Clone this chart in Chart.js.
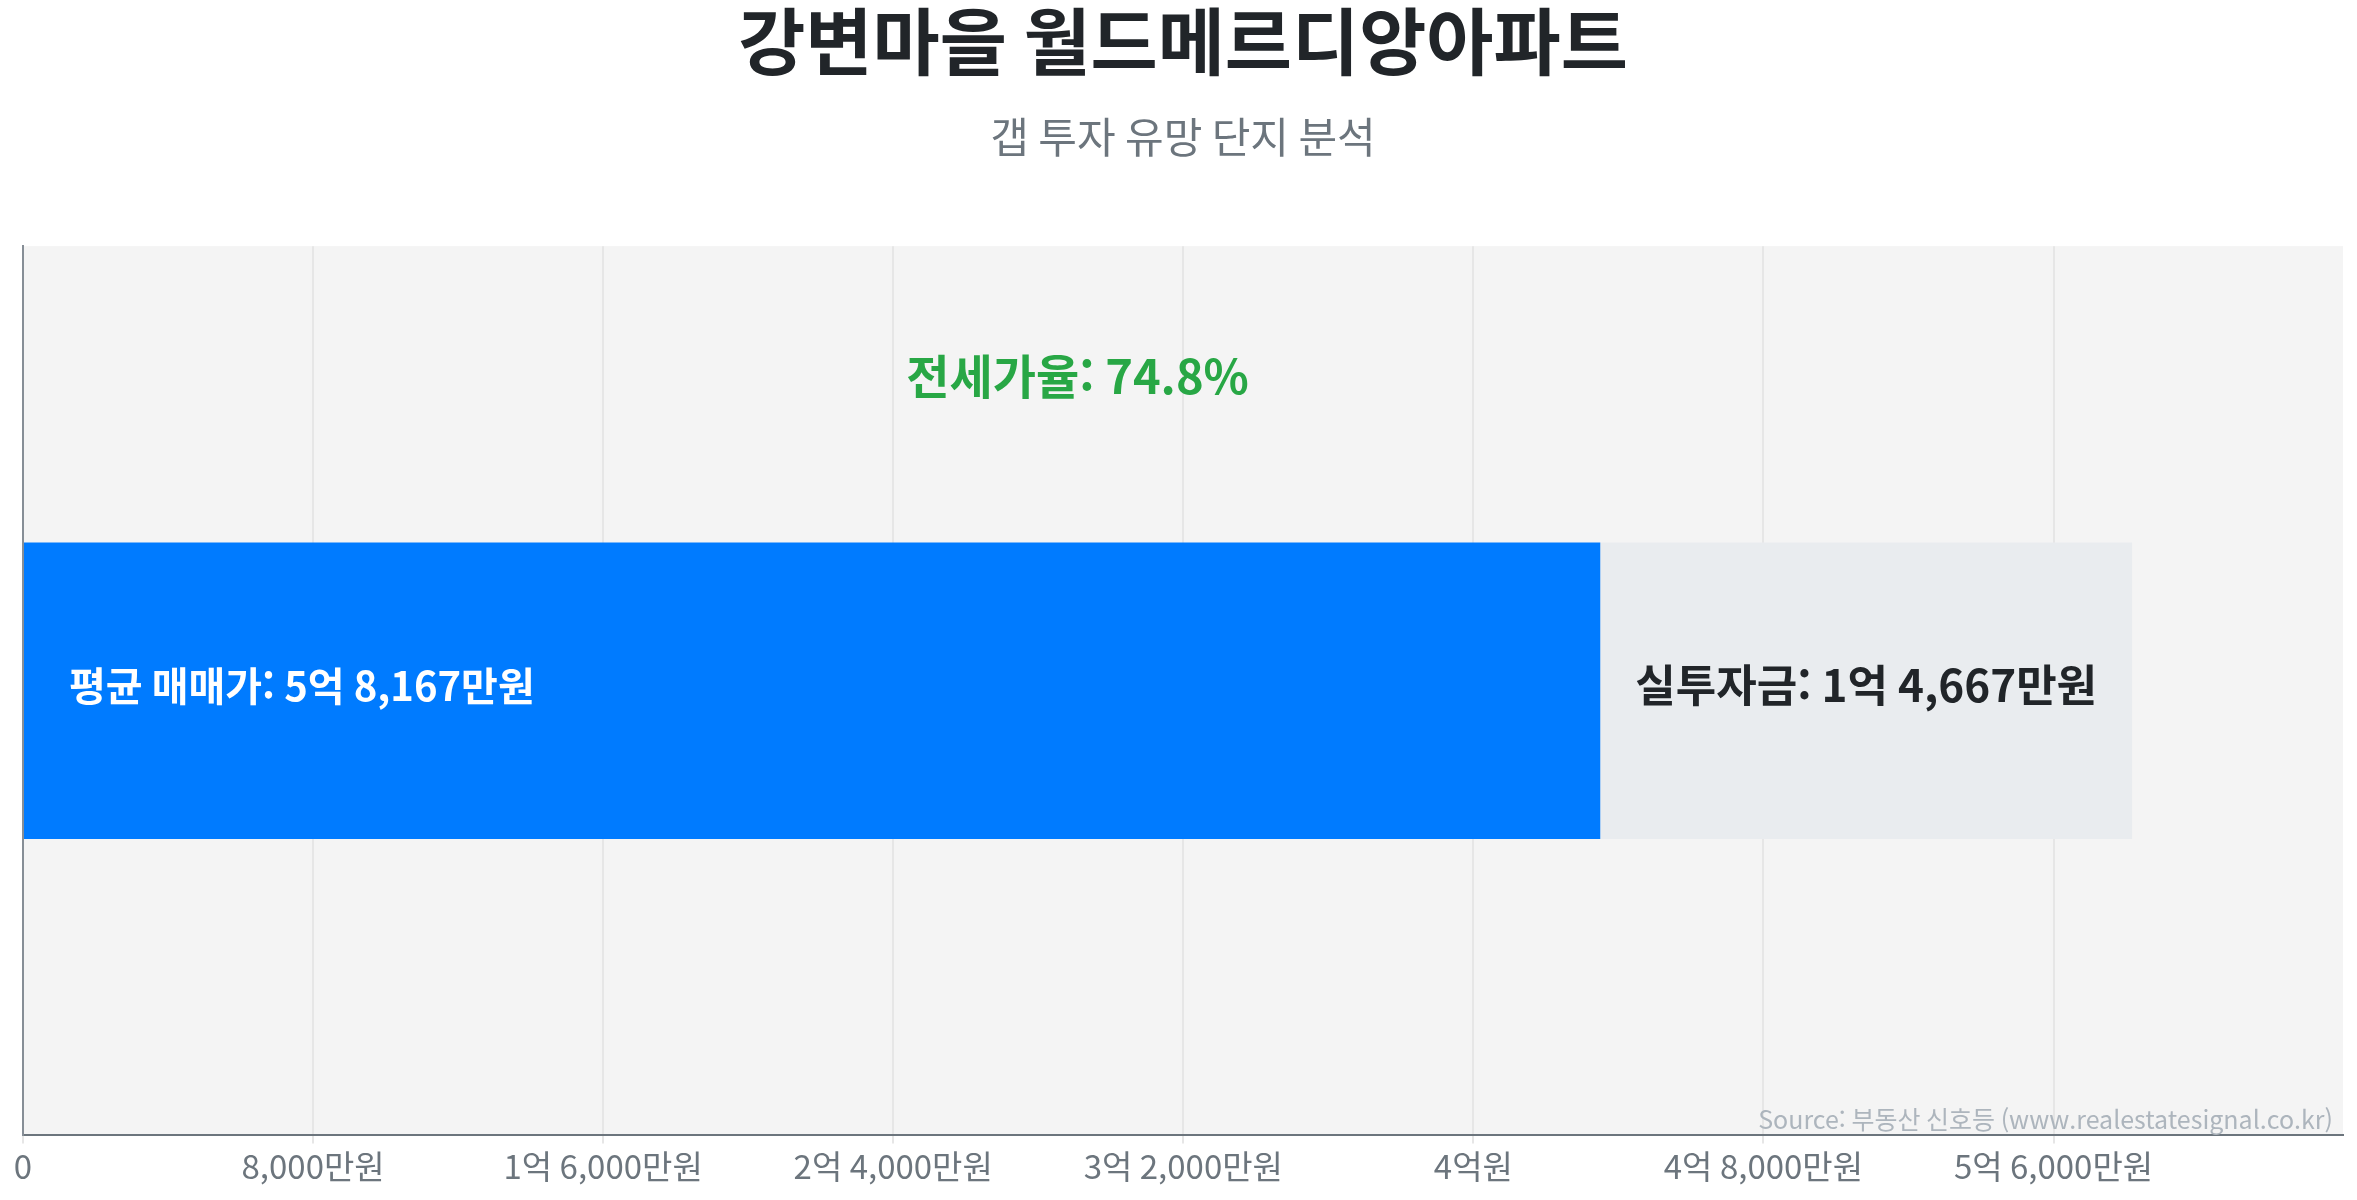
<!DOCTYPE html>
<html lang="ko">
<head>
<meta charset="utf-8">
<title>강변마을 월드메르디앙아파트</title>
<script src="https://cdn.jsdelivr.net/npm/chart.js@4.4.1/dist/chart.umd.min.js"></script>
<style>
    html, body { margin: 0; padding: 0; background: #fff; }
    .chart-wrapper { width: 2357px; height: 1200px; position: relative; }
</style>
</head>
<body>
<div class="chart-wrapper">
    <canvas id="gapChart"></canvas>
</div>
<script>
// 단위: 만원
const categories = ['강변마을 월드메르디앙아파트'];
const jeonseValues = [43500];      // 전세가 (파란 막대)
const investValues = [14667];      // 실투자금 (회색 막대)
const salePrices = [58167];        // 평균 매매가
const jeonseRatios = [74.8];       // 전세가율 (%)
const axisMax = 63984;             // 축 끝
const tickValues = [0, 8000, 16000, 24000, 32000, 40000, 48000, 56000];

const FONT = "'Noto Sans CJK KR', 'Noto Sans', sans-serif";

// 만원 단위 숫자를 "X억 Y,YYY만원" 으로
const toWon = (v) => {
    if (v === 0) return '0';
    const eok = Math.floor(v / 10000);
    const man = Math.round(v % 10000);
    if (eok > 0 && man > 0) return eok + '억 ' + man.toLocaleString('en-US') + '만원';
    if (eok > 0) return eok + '억원';
    return man.toLocaleString('en-US') + '만원';
};

const areaBackground = {
    id: 'areaBackground',
    beforeDraw(chart) {
        const { ctx, chartArea: a } = chart;
        ctx.save();
        ctx.fillStyle = '#f4f4f4';
        ctx.fillRect(a.left, a.top, a.right - a.left, a.bottom - a.top);
        ctx.restore();
    }
};

const barLabels = {
    id: 'barLabels',
    afterDatasetsDraw(chart) {
        const { ctx, chartArea: a, scales } = chart;
        const blue = chart.getDatasetMeta(0).data[0];
        const gray = chart.getDatasetMeta(1).data[0];
        ctx.save();
        ctx.textBaseline = 'middle';

        ctx.fillStyle = '#ffffff';
        ctx.textAlign = 'left';
        ctx.font = 'bold 40px ' + FONT;
        ctx.fillText('평균 매매가: ' + toWon(salePrices[0]), blue.base + 45, blue.y - 5);

        ctx.fillStyle = '#212529';
        ctx.textAlign = 'center';
        ctx.font = 'bold 44px ' + FONT;
        ctx.fillText('실투자금: ' + toWon(investValues[0]), (gray.x + gray.base) / 2, gray.y - 5);

        const barTop = blue.y - blue.height / 2;
        ctx.fillStyle = '#28a745';
        ctx.font = 'bold 47px ' + FONT;
        ctx.fillText('전세가율: ' + jeonseRatios[0] + '%', scales.x.getPixelForValue(salePrices[0] / 2),
            a.top + (barTop - a.top) * 0.44);

        ctx.fillStyle = '#adb5bd';
        ctx.textAlign = 'right';
        ctx.font = '25px ' + FONT;
        ctx.fillText('Source: 부동산 신호등 (www.realestatesignal.co.kr)', a.right - 10, a.bottom - 16);
        ctx.restore();
    }
};

new Chart(document.getElementById('gapChart'), {
    type: 'bar',
    data: {
        labels: categories,
        datasets: [
            {
                label: '전세가',
                data: jeonseValues,
                backgroundColor: '#007bff',
                borderWidth: 0,
                barPercentage: 1 / 3,
                categoryPercentage: 1
            },
            {
                label: '실투자금',
                data: investValues,
                backgroundColor: '#e9ecef',
                borderWidth: 0,
                barPercentage: 1 / 3,
                categoryPercentage: 1
            }
        ]
    },
    options: {
        indexAxis: 'y',
        responsive: true,
        maintainAspectRatio: false,
        animation: false,
        layout: { padding: { left: 23, right: 14, top: 0, bottom: 11 } },
        scales: {
            x: {
                stacked: true,
                min: 0,
                max: axisMax,
                afterBuildTicks: (axis) => {
                    axis.ticks = tickValues.map(v => ({ value: v }));
                },
                ticks: {
                    color: '#6c757d',
                    font: { family: FONT, size: 33 },
                    callback: (v) => toWon(v),
                    maxRotation: 0,
                    autoSkip: false
                },
                grid: { color: '#e6e6e6', lineWidth: 2, tickLength: 8 },
                border: { color: '#6c757d', width: 2 }
            },
            y: {
                stacked: true,
                ticks: { display: false },
                grid: { display: false, drawTicks: false },
                border: { display: true, color: '#868e96', width: 2 }
            }
        },
        plugins: {
            legend: { display: false },
            tooltip: { enabled: false },
            title: {
                display: true,
                text: '강변마을 월드메르디앙아파트',
                color: '#212529',
                font: { family: FONT, size: 73, weight: 'bold', lineHeight: 1.12 },
                padding: { top: 0, bottom: 30 }
            },
            subtitle: {
                display: true,
                text: '갭 투자 유망 단지 분석',
                color: '#6c757d',
                font: { family: FONT, size: 42, weight: 'normal' },
                padding: { top: 0, bottom: 84 }
            }
        }
    },
    plugins: [areaBackground, barLabels]
});
</script>
</body>
</html>
